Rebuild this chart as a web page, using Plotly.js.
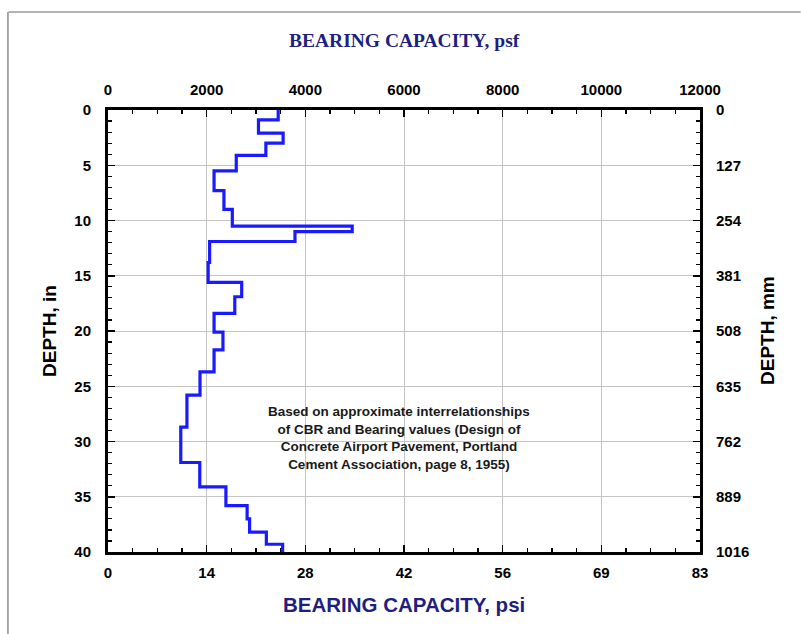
<!DOCTYPE html>
<html><head><meta charset="utf-8">
<script src="https://cdn.plot.ly/plotly-3.0.1.min.js"></script>
<style>html,body{margin:0;padding:0;background:#fff}#chart{width:801px;height:634px}</style>
</head><body><div id="chart"></div>
<script>
// Layer top depths (in) and bearing capacity of each layer (psf)
const layerTopDepthIn = [0, 0.9, 2.1, 3.0, 4.1, 5.5, 7.3, 9.0, 10.5, 11.0, 11.9, 13.8, 15.6, 16.9, 18.4, 20.1, 21.7, 23.7, 25.8, 28.7, 31.9, 34.1, 35.8, 37.0, 38.2, 39.3];
const bearingPsf     = [3450, 3050, 3550, 3200, 2600, 2150, 2350, 2520, 4950, 3790, 2060, 2030, 2710, 2570, 2150, 2330, 2150, 1865, 1600, 1475, 1860, 2390, 2820, 2870, 3210, 3540];
const bottomDepthIn = 40;

const psfTickVals = [0, 2000, 4000, 6000, 8000, 10000, 12000];
const psfTickText = ['0', '2000', '4000', '6000', '8000', '10000', '12000'];
const psiTickText = ['0', '14', '28', '42', '56', '69', '83'];
const depthTickVals = [0, 5, 10, 15, 20, 25, 30, 35, 40];
const inTickText = ['0', '5', '10', '15', '20', '25', '30', '35', '40'];
const mmTickText = ['0', '127', '254', '381', '508', '635', '762', '889', '1016'];

const noteLines = [
  'Based on approximate interrelationships',
  'of CBR and Bearing values (Design of',
  'Concrete Airport Pavement, Portland',
  'Cement Association, page 8, 1955)'
];

const xs = bearingPsf.concat([bearingPsf[bearingPsf.length - 1]]);
const ys = layerTopDepthIn.concat([bottomDepthIn]);

const sans = 'Liberation Sans, Arial, sans-serif';
const tickFont = {family: sans, size: 15, color: '#000', weight: 'bold'};
const navy = '#1f1f80';

function axisBase(extra) {
  return Object.assign({
    ticks: 'inside', ticklen: 7, tickwidth: 1.5, tickcolor: '#000',
    showline: true, linewidth: 3, linecolor: '#000',
    zeroline: false, tickfont: tickFont, ticklabelstandoff: 10,
    fixedrange: true, automargin: false
  }, extra);
}

const traces = [
  {x: xs, y: ys, xaxis: 'x', yaxis: 'y', type: 'scatter', mode: 'lines',
   line: {shape: 'vh', color: '#1a1aff', width: 3.2}, hoverinfo: 'x+y', showlegend: false},
  {x: xs, y: ys, xaxis: 'x2', yaxis: 'y2', type: 'scatter', mode: 'lines',
   line: {shape: 'vh', color: 'rgba(0,0,0,0)', width: 0}, hoverinfo: 'skip', showlegend: false}
];

const layout = {
  width: 801, height: 634,
  margin: {l: 108, r: 101, t: 110, b: 82},
  paper_bgcolor: '#fff', plot_bgcolor: '#fff',
  showlegend: false,
  xaxis: axisBase({side: 'top', range: [0, 12000], tickvals: psfTickVals, ticktext: psfTickText,
    ticklabelstandoff: 6,
    showgrid: true, gridcolor: '#c4c4c4', gridwidth: 1,
    minor: {dtick: 500, tick0: 0, ticks: 'inside', ticklen: 4, tickcolor: '#000', tickwidth: 1.2, showgrid: false}}),
  xaxis2: axisBase({side: 'bottom', overlaying: 'x', anchor: 'y2', range: [0, 12000],
    tickvals: psfTickVals, ticktext: psiTickText, showgrid: false, ticklabelstandoff: 5,
    minor: {dtick: 500, tick0: 0, ticks: 'inside', ticklen: 4, tickcolor: '#000', tickwidth: 1.2, showgrid: false}}),
  yaxis: axisBase({side: 'left', range: [40, 0], tickvals: depthTickVals, ticktext: inTickText,
    ticklabelstandoff: 11,
    showgrid: true, gridcolor: '#c4c4c4', gridwidth: 1,
    minor: {dtick: 1, tick0: 0, ticks: 'inside', ticklen: 4, tickcolor: '#000', tickwidth: 1.2, showgrid: false}}),
  yaxis2: axisBase({side: 'right', overlaying: 'y', anchor: 'x2', range: [40, 0],
    tickvals: depthTickVals, ticktext: mmTickText, showgrid: false,
    minor: {dtick: 1, tick0: 0, ticks: 'inside', ticklen: 4, tickcolor: '#000', tickwidth: 1.2, showgrid: false}}),
  annotations: [
    {text: 'BEARING CAPACITY, psf', xref: 'paper', yref: 'paper', x: 0.5, y: 1, yshift: 70,
     xanchor: 'center', yanchor: 'middle', showarrow: false,
     font: {family: 'Liberation Serif, Times New Roman, serif', size: 19.5, color: navy, weight: 'bold'}},
    {text: 'BEARING CAPACITY, psi', xref: 'paper', yref: 'paper', x: 0.5, y: 0, yshift: -52,
     xanchor: 'center', yanchor: 'middle', showarrow: false,
     font: {family: sans, size: 20.5, color: navy, weight: 'bold'}},
    {text: 'DEPTH, in', xref: 'paper', yref: 'paper', x: 0, y: 0.5, xshift: -59, textangle: -90,
     xanchor: 'center', yanchor: 'middle', showarrow: false,
     font: {family: sans, size: 19, color: '#000', weight: 'bold'}},
    {text: 'DEPTH, mm', xref: 'paper', yref: 'paper', x: 1, y: 0.5, xshift: 67, textangle: -90,
     xanchor: 'center', yanchor: 'middle', showarrow: false,
     font: {family: sans, size: 19, color: '#000', weight: 'bold'}},
    {text: noteLines.join('<br>'), xref: 'paper', yref: 'paper', x: 0.4916, y: 0.2568,
     xanchor: 'center', yanchor: 'middle', align: 'center', showarrow: false,
     font: {family: sans, size: 13.5, color: '#1a1a1a', weight: 'bold'}}
  ],
  shapes: [
    {type: 'line', xref: 'paper', yref: 'paper', x0: -0.168, x1: 1.17, y0: 1.222, y1: 1.222,
     line: {color: '#9a9a9a', width: 1.5}},
    {type: 'line', xref: 'paper', yref: 'paper', x0: -0.169, x1: -0.169, y0: -0.19, y1: 1.222,
     line: {color: '#8a8a8a', width: 1.5}}
  ]
};

Plotly.newPlot('chart', traces, layout, {displayModeBar: false, staticPlot: true});
</script></body></html>
